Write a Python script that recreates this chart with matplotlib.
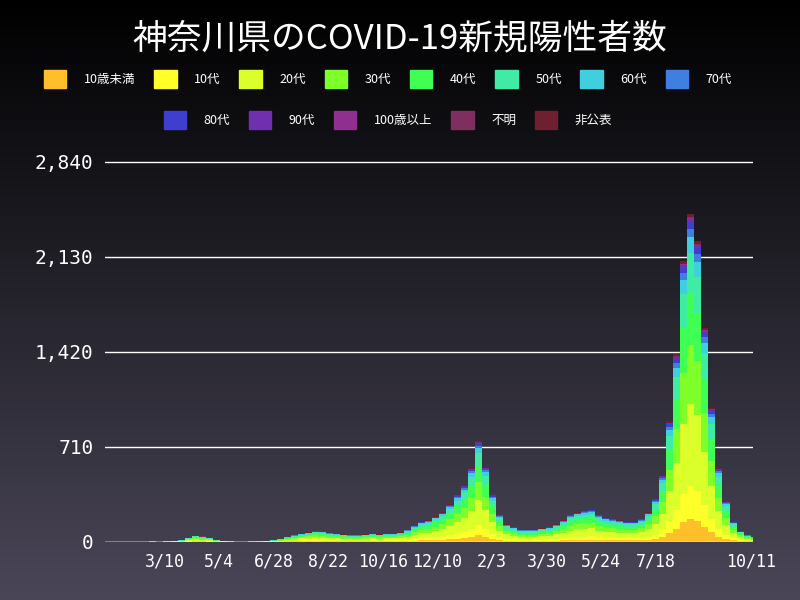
import numpy as np
import matplotlib
matplotlib.use("Agg")
import matplotlib.pyplot as plt
import datetime as dt

plt.rcParams['font.family'] = ['Noto Sans CJK JP', 'DejaVu Sans']

start = dt.date(2020, 1, 13)
weekly_total = [0,0,0,0,1,2,3,2,
                4,6,12,30,45,40,30,15,
                8,4,2,2,3,5,8,12,
                20,35,50,60,70,80,75,65,
                60,55,50,50,55,60,55,60,
                60,70,90,120,150,160,190,220,
                280,350,420,550,
                750,560,350,200,
                130,110,90,90,
                90,100,110,130,
                160,200,220,230,
                240,200,180,170,
                160,150,150,170,
                220,320,500,900,
                1400,2100,2450,2250,
                1600,1000,550,300,
                150,80,50,35]
groups = ['10歳未満','10代','20代','30代','40代','50代','60代','70代','80代','90代','100歳以上','不明','非公表']
shares = [0.07,0.10,0.25,0.18,0.16,0.12,0.05,0.025,0.02,0.01,0.002,0.003,0.01]
colors = ['#FFBF2A','#FFFF2A','#DAFF2A','#7FFF2A','#3FFF55','#3FEBA5','#3FCFDF','#3F7FDF',
          '#3F3FCF','#6F2FAF','#8F2F8F','#7F2F5F','#6F1F2F']
tick_labels = ['3/10','5/4','6/28','8/22','10/16','12/10','2/3','3/30','5/24','7/18','10/11']
tick_dates = [dt.date(2020,3,10)+dt.timedelta(days=54*i) for i in range(10)] + [dt.date(2021,10,11)]

fig = plt.figure(figsize=(8,6), dpi=100)
bg = fig.add_axes([0,0,1,1], zorder=-10)
grad = np.linspace(0,1,256)[:,None]
from matplotlib.colors import LinearSegmentedColormap
cm = LinearSegmentedColormap.from_list('g', ['#000000', '#4a4658'])
bg.imshow(grad, aspect='auto', cmap=cm, extent=[0,1,0,1], origin='upper')
bg.axis('off')

ax = fig.add_axes([0.131, 0.097, 0.81, 0.638])
ax.patch.set_alpha(0)
x = np.arange(len(weekly_total))*7
tot = np.array(weekly_total, float)
bottom = np.zeros_like(tot)
for g, s, c in zip(groups, shares, colors):
    v = tot*s
    ax.bar(x, v, width=7, bottom=bottom, color=c, align='edge', linewidth=0)
    bottom += v
ax.set_xlim(-2, (dt.date(2021,10,11)-start).days+2)
ax.set_ylim(0, 2860)
ax.set_yticks([0,710,1420,2130,2840])
ax.set_yticklabels(['0','710','1,420','2,130','2,840'], family='DejaVu Sans Mono', fontsize=14, color='white')
ax.yaxis.grid(True, color='white', linewidth=1)
ax.set_axisbelow(True)
ax.set_xticks([(d-start).days for d in tick_dates])
ax.set_xticklabels(tick_labels, family='DejaVu Sans Mono', fontsize=12, color='white')
ax.tick_params(length=0, pad=8)
for s in ax.spines.values():
    s.set_visible(False)
ax.axhline(0, color='white', linewidth=1)

fig.text(0.5, 0.935, '神奈川県のCOVID-19新規陽性者数', ha='center', va='center', color='white', fontsize=25)

from matplotlib.patches import Patch
h = [Patch(color=c) for c in colors]
kw = dict(frameon=False, fontsize=9, labelcolor='white', handlelength=1.8, handleheight=1.8, columnspacing=1.5, handletextpad=1.4)
fig.legend(h[:8], groups[:8], ncol=8, loc='center', bbox_to_anchor=(0.485, 0.868), **kw)
fig.legend(h[8:], groups[8:], ncol=5, loc='center', bbox_to_anchor=(0.485, 0.80), **kw)
fig.savefig('out.png')
